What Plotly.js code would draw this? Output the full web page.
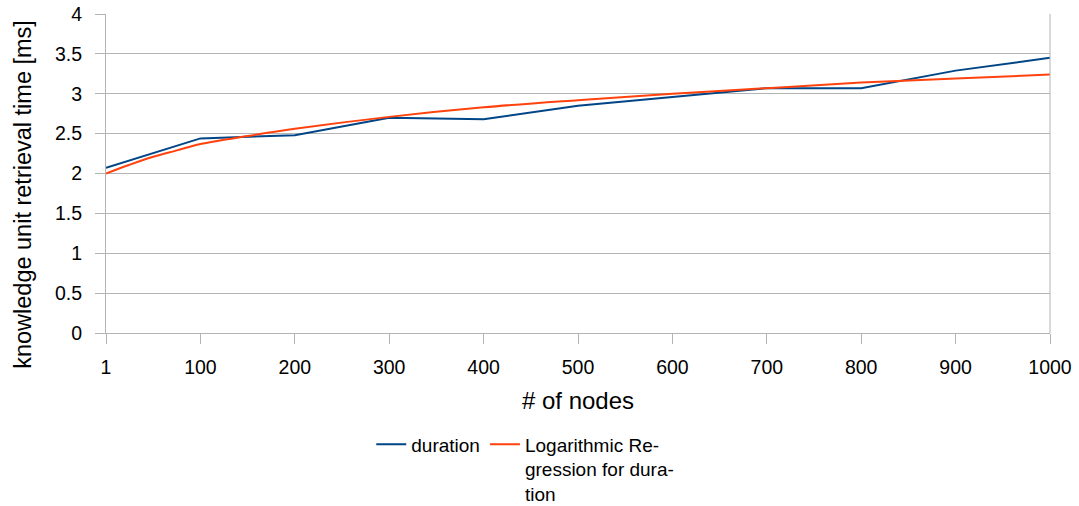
<!DOCTYPE html>
<html>
<head>
<meta charset="utf-8">
<script src="https://cdn.plot.ly/plotly-3.0.1.min.js"></script>
<style>html,body{margin:0;padding:0;background:#fff;}#chart{width:1079px;height:506px;}</style>
</head>
<body>
<div id="chart"></div>
<script>
// Category labels on the x axis (# of nodes)
const nodeLabels = ["1","100","200","300","400","500","600","700","800","900","1000"];
// Measured duration (ms) per category
const duration = [2.07, 2.44, 2.48, 2.70, 2.68, 2.85, 2.96, 3.07, 3.07, 3.29, 3.45];
// Logarithmic regression curve at category positions (fractional between categories)
const regPos = [0, 0.25, 0.5, 0.75, 1, 1.5, 2, 3, 4, 5, 6, 7, 8, 9, 10];
const regValues = [2.00, 2.11, 2.21, 2.29, 2.37, 2.47, 2.56, 2.71, 2.83, 2.92, 3.00, 3.07, 3.14, 3.19, 3.24];
const yTicks = [0, 0.5, 1, 1.5, 2, 2.5, 3, 3.5, 4];
const yTickText = ["0","0.5","1","1.5","2","2.5","3","3.5","4"];
const yTitle = "knowledge unit retrieval time [ms]";
const xTitle = "# of nodes";

const idx = nodeLabels.map((_, i) => i);
const FONT = "Liberation Sans, Arial, sans-serif";

const traces = [
  {
    x: idx, y: duration, type: "scatter", mode: "lines", name: "duration",
    line: {color: "#004586", width: 2}
  },
  {
    x: regPos, y: regValues, type: "scatter", mode: "lines",
    name: "Logarithmic Re-<br>gression for dura-<br>tion",
    line: {color: "#ff420e", width: 2, shape: "spline", smoothing: 1}
  }
];

const layout = {
  width: 1079, height: 506,
  margin: {l: 106, r: 29, t: 14, b: 173, autoexpand: false},
  paper_bgcolor: "#fff", plot_bgcolor: "#fff",
  font: {family: FONT, color: "#000"},
  showlegend: true,
  xaxis: {
    range: [0, 10], automargin: false,
    tickvals: idx, ticktext: nodeLabels,
    showgrid: false, zeroline: false,
    showline: true, linecolor: "#b3b3b3", linewidth: 1, mirror: false,
    ticks: "outside", ticklen: 10, tickcolor: "#b3b3b3", tickwidth: 1,
    tickfont: {size: 19.5, family: FONT, color: "#000"},
    ticklabelstandoff: 7,
    title: {text: xTitle, font: {size: 24, family: FONT, color: "#000"}, standoff: 14}
  },
  yaxis: {
    range: [0, 4], automargin: false,
    tickvals: yTicks, ticktext: yTickText,
    showgrid: true, gridcolor: "#b3b3b3", gridwidth: 1,
    zeroline: false,
    showline: true, linecolor: "#b3b3b3", linewidth: 1,
    ticks: "outside", ticklen: 10, tickcolor: "#b3b3b3", tickwidth: 1,
    tickfont: {size: 19.5, family: FONT, color: "#000"},
    ticklabelstandoff: 9
  },
  annotations: [
    {text: yTitle, xref: "paper", yref: "paper", x: -0.088, y: 0.436,
     xanchor: "center", yanchor: "middle", textangle: -90, showarrow: false,
     font: {size: 23.5, family: FONT, color: "#000"}}
  ],
  shapes: [
    {type: "line", xref: "paper", yref: "paper", x0: 1, x1: 1, y0: 0, y1: 1, line: {color: "#b3b3b3", width: 1}}
  ],
  legend: {
    orientation: "h",
    x: 0.281, xanchor: "left", y: -0.29, yanchor: "top",
    font: {size: 19, family: FONT, color: "#000"},
    itemwidth: 30, tracegroupgap: 0, valign: "top"
  }
};

Plotly.newPlot("chart", traces, layout, {displayModeBar: false, staticPlot: true});
</script>
</body>
</html>
